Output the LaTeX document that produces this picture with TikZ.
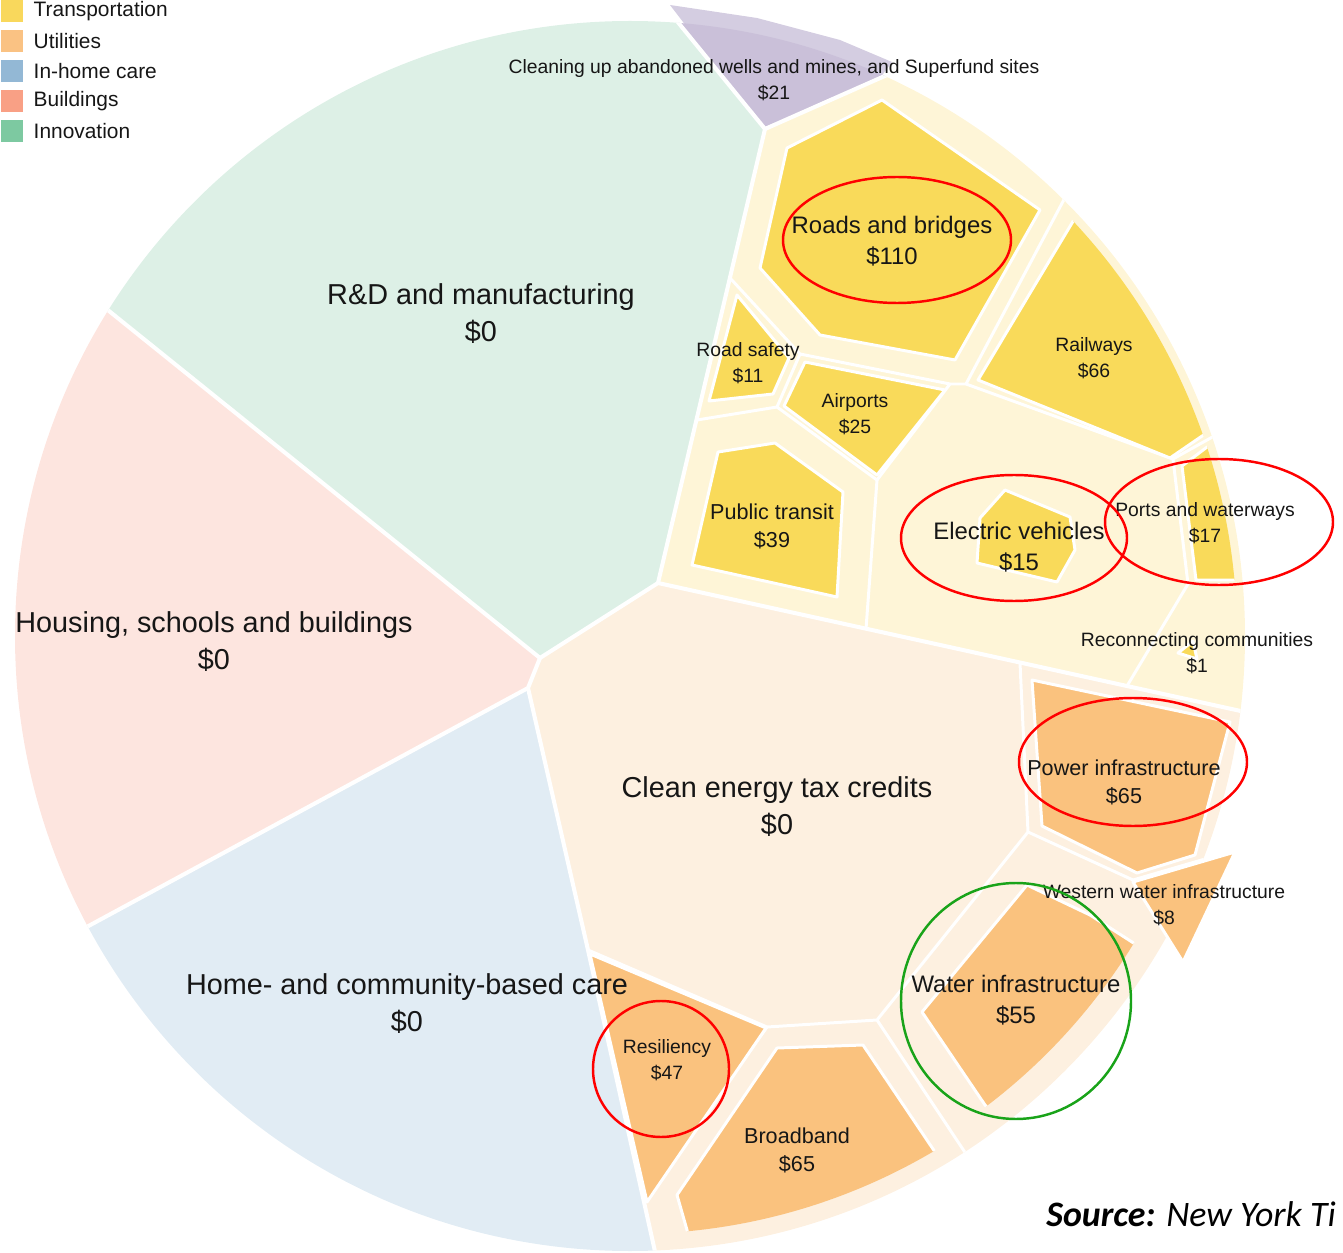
\documentclass[tikz,border=0pt]{standalone}
\usepackage{fontspec}
\setmainfont{Liberation Sans}
\newfontfamily\srcfont{Carlito}
\usetikzlibrary{positioning}

\definecolor{mintc}{HTML}{DDF0E6}
\definecolor{pinkc}{HTML}{FDE5DF}
\definecolor{bluec}{HTML}{E1ECF4}
\definecolor{peachc}{HTML}{FDF0E0}
\definecolor{lyelc}{HTML}{FEF5D7}
\definecolor{yelc}{HTML}{F9DA5A}
\definecolor{orc}{HTML}{FAC27E}
\definecolor{purpc}{HTML}{CAC0D9}
\definecolor{purplt}{HTML}{D4CDE1}
\definecolor{txt}{HTML}{161616}
\definecolor{legT}{HTML}{F9D85C}
\definecolor{legU}{HTML}{FAC283}
\definecolor{legI}{HTML}{93B8D5}
\definecolor{legB}{HTML}{F9A085}
\definecolor{legN}{HTML}{7DC9A1}

\tikzset{
  cellline/.style={white, line width=2.3pt, line join=round},
  subline/.style={white, line width=1.7pt, line join=round},
  ycell/.style={fill=yelc, draw=white, line width=1.7pt, line join=round},
  ocell/.style={fill=orc, draw=white, line width=1.7pt, line join=round},
  lbl/.style={align=center, text=txt, inner sep=0pt},
  lblXL/.style={lbl, font=\fontsize{16.4}{21}\selectfont},
  lblL/.style={lbl, font=\fontsize{13.6}{18}\selectfont},
  lblM/.style={lbl, font=\fontsize{12.3}{16}\selectfont},
  lblS/.style={lbl, font=\fontsize{11}{14.5}\selectfont},
  redring/.style={draw=red, line width=1.4pt},
  greenring/.style={draw=green!60!black!90, line width=1.4pt},
  legbox/.style={minimum size=0.44cm, inner sep=0pt},
  legtext/.style={text=txt, inner sep=0pt, font=\fontsize{11.9}{14}\selectfont},
}

\begin{document}
\begin{tikzpicture}[x=0.02cm,y=-0.02cm]
\useasboundingbox (0,0) rectangle (1343,1253);

% purple cell poking out of the circle
\fill[purplt] (670,5) -- (757,18) -- (840,40) -- (892,62) -- (880,78) -- (765,129) -- cycle;

\begin{scope}
\clip (630,636) circle [radius=615];
\fill[mintc] (540,658) -- (-50,183) -- (-50,-50) -- (619,-50) -- (765,129) -- (658,583) -- cycle;
\fill[purpc] (619,-50) -- (765,129) -- (1000,25) -- (1000,-50) -- cycle;
\fill[lyelc] (658,583) -- (765,129) -- (1000,25) -- (1000,-50) -- (1400,-50) -- (1400,746) -- cycle;
\fill[peachc] (528,688) -- (540,658) -- (658,583) -- (1400,746) -- (1400,1400) -- (688,1400) -- (588,950) -- cycle;
\fill[pinkc] (540,658) -- (528,688) -- (-50,1001) -- (-50,183) -- cycle;
\fill[bluec] (528,688) -- (588,950) -- (688,1400) -- (-50,1400) -- (-50,1001) -- cycle;
% main borders
\draw[cellline] (-50,183) -- (540,658) -- (528,688) -- (-50,1001);
\draw[cellline] (528,688) -- (588,950) -- (688,1400);
\draw[cellline] (540,658) -- (658,583) -- (1400,746);
\draw[cellline] (658,583) -- (765,129) -- (619,-50);
\draw[cellline] (765,129) -- (1000,25);
% transportation cells
\draw[subline] (730,278) -- (800,354) -- (950,384) -- (966,384) -- (1085,160);
\draw[subline] (800,354) -- (777,407) -- (877,480) -- (950,384);
\draw[subline] (697,420) -- (777,407);
\draw[subline] (877,480) -- (866,629);
\draw[subline] (966,384) -- (1173,459) -- (1250,416);
\draw[subline] (1173,459) -- (1188,584) -- (1127,686);
\draw[subline] (1188,584) -- (1280,584);
% utilities cells
\draw[subline] (1020,663) -- (1028,832) -- (877,1020) -- (767,1027) -- (588,950);
\draw[subline] (767,1027) -- (644,1200);
\draw[subline] (877,1020) -- (990,1190);
\draw[subline] (1028,832) -- (1133,880) -- (1260,843);
\draw[subline] (1133,880) -- (1190,953);
\end{scope}

% transportation projects
\draw[ycell] (787,148) -- (882,100) -- (1040,210) -- (955,360) -- (820,335) -- (760,268) -- cycle;
\draw[ycell] (737,295) -- (789,358) -- (773,394) -- (709,401) -- cycle;
\draw[ycell] (784,406) -- (805,362) -- (945,390) -- (877,475) -- cycle;
\draw[ycell] (718,452) -- (775,443) -- (843,492) -- (837,597) -- (692,565) -- cycle;
\draw[ycell] (1005,490) -- (1070,517) -- (1075,550) -- (1057,582) -- (977,563) -- (980,518) -- cycle;
\draw[ycell] (1178,653) -- (1193,641) -- (1197,659) -- cycle;
\begin{scope}
\clip (630,636) circle [radius=607];
\draw[ycell] (1075,218) -- (1110,190) -- (1280,420) -- (1205,434) -- (1170,458) -- (978,380) -- cycle;
\draw[ycell] (1182,466) -- (1215,441) -- (1280,460) -- (1280,580) -- (1196,580) -- cycle;
\end{scope}

% utilities projects
\draw[ocell] (1032,680) -- (1230,722) -- (1195,855) -- (1137,873) -- (1042,826) -- cycle;
\draw[ocell] (590,954) -- (766,1028) -- (647,1202) -- cycle;
\begin{scope}
\clip (630,636) circle [radius=590];
\draw[ocell] (1027,885) -- (1090,915) -- (1160,960) -- (1010,1130) -- (985,1105) -- (922,1012) -- cycle;
\end{scope}
\begin{scope}
\clip (630,636) circle [radius=598];
\draw[ocell] (777,1048) -- (863,1045) -- (935,1152) -- (960,1190) -- (690,1260) -- (687,1230) -- (677,1195) -- cycle;
\end{scope}
\draw[ocell] (1133,882) -- (1235,852) -- (1183,962) -- cycle;

% labels
\node[lblS] (wells) at (774,80) {Cleaning up abandoned wells and mines, and Superfund sites\\\$21};
\node[lblXL] (rnd) at (481,314) {R\&D and manufacturing\\\$0};
\node[lblL] (roads) at (892,241) {Roads and bridges\\\$110};
\node[lblS] (safety) at (748,363) {Road safety\\\$11};
\node[lblS] (rail) at (1094,358) {Railways\\\$66};
\node[lblS] (air) at (855,414) {Airports\\\$25};
\node[lblM] (transit) at (772,526) {Public transit\\\$39};
\node[lblL] (ev) at (1019,547) {Electric vehicles\\\$15};
\node[lblS] (ports) at (1205,523) {Ports and waterways\\\$17};
\node[lblXL] (housing) at (214,642) {Housing, schools and buildings\\\$0};
\node[lblS] (reconn) at (1197,653) {Reconnecting communities\\\$1};
\node[lblXL] (clean) at (777,807) {Clean energy tax credits\\\$0};
\node[lblM] (power) at (1124,782) {Power infrastructure\\\$65};
\node[lblS] (western) at (1164,905) {Western water infrastructure\\\$8};
\node[lblXL] (care) at (407,1004) {Home- and community-based care\\\$0};
\node[lblL] (water) at (1016,1000) {Water infrastructure\\\$55};
\node[lblS] (resil) at (667,1060) {Resiliency\\\$47};
\node[lblM] (broad) at (797,1150) {Broadband\\\$65};

% highlights
\draw[redring] (897,240) ellipse [x radius=114, y radius=63];
\draw[redring] (1014,538) ellipse [x radius=113, y radius=63];
\draw[redring] (1219,522) ellipse [x radius=114, y radius=63];
\draw[redring] (1133,762) ellipse [x radius=114, y radius=64];
\draw[redring] (661,1069) ellipse [x radius=68, y radius=68];
\draw[greenring] (1016,1001) ellipse [x radius=115, y radius=118];

% legend
\node[legbox, fill=legT] (kT) at (12,11) {};
\node[legtext, right=0.2cm of kT] (tT) {Transportation};
\node[legbox, fill=legU, below=0.146cm of kT] (kU) {};
\node[legtext, right=0.2cm of kU] (tU) {Utilities};
\node[legbox, fill=legI, below=0.146cm of kU] (kI) {};
\node[legtext, right=0.2cm of kI] (tI) {In-home care};
\node[legbox, fill=legB, below=0.146cm of kI] (kB) {};
\node[legtext, right=0.2cm of kB] (tB) {Buildings};
\node[legbox, fill=legN, below=0.146cm of kB] (kN) {};
\node[legtext, right=0.2cm of kN] (tN) {Innovation};

\node[anchor=base west, inner sep=0pt, font=\srcfont\fontsize{20.4}{24}\selectfont] (src) at (1046,1226) {\textbf{\textit{Source:}} \textit{New York Ti}};
\end{tikzpicture}
\end{document}
